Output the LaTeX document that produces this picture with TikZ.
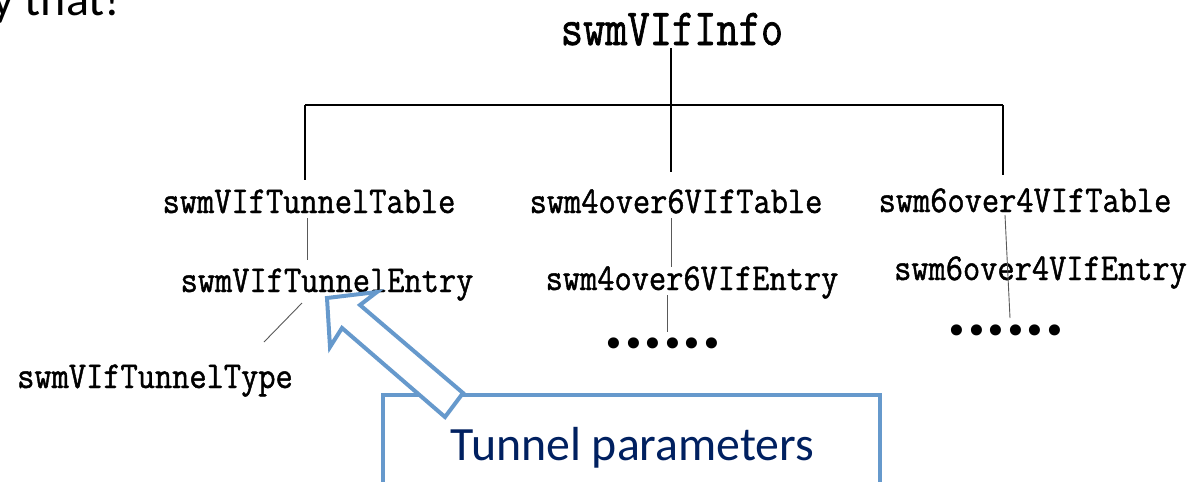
\documentclass[tikz,border=0pt]{standalone}
\usepackage{fontspec}
\setmainfont{Liberation Serif}
\newfontfamily\treefam[FakeStretch=0.88,FakeBold=1.2]{Latin Modern Mono}
\newfontfamily\topfam[FakeStretch=0.83,FakeBold=1.2]{Latin Modern Mono}
\newfontfamily\dotfam[LetterSpace=-8.7]{DejaVu Sans Mono}
\newfontfamily\calfam{Carlito}
\definecolor{boxblue}{RGB}{102,153,204}
\definecolor{navyblue}{RGB}{0,32,96}
\begin{document}
\begin{tikzpicture}[x=1pt,y=-1pt,
  lbl/.style={inner sep=0pt, anchor=base, font={\treefam\fontsize{38}{44}\selectfont}},
  toplbl/.style={inner sep=0pt, anchor=base, font={\topfam\fontsize{52}{60}\selectfont}},
  dotlbl/.style={inner sep=0pt, anchor=center, font={\dotfam\fontsize{38}{44}\selectfont}},
  treeline/.style={line width=1.1pt, black},
  subline/.style={line width=0.9pt, black!65},
  bluebox/.style={draw=boxblue, line width=4pt, fill=white, line join=miter},
  bluearrow/.style={draw=boxblue, line width=4pt, fill=white, line join=miter}
]
\useasboundingbox (0,0) rectangle (1200,482);
% partial text cut at top
\node[inner sep=0pt, anchor=base west, font={\calfam\fontsize{48}{56}\selectfont}] (cut) at (-8,15) {y that!};

% tree labels
\node[toplbl] (info) at (672,45) {swmVIfInfo};
\node[lbl] (ttab) at (309,213) {swmVIfTunnelTable};
\node[lbl] (t46) at (676,213) {swm4over6VIfTable};
\node[lbl] (t64) at (1025,212) {swm6over4VIfTable};
\node[lbl] (tent) at (327,292) {swmVIfTunnelEntry};
\node[lbl] (e46) at (692,290) {swm4over6VIfEntry};
\node[lbl] (e64) at (1040.5,280) {swm6over4VIfEntry};
\node[lbl] (ttype) at (155,388) {swmVIfTunnelType};
\node[dotlbl] (d46) at (663,348) {••••••};
\node[dotlbl] (d64) at (1006,335) {••••••};

% connector coordinates
\coordinate (infoB) at (671,48);
\coordinate (busM) at (671,105);
\coordinate (busL) at (305,105);
\coordinate (busR) at (1003,105);
\coordinate (midT) at (671,172);
\coordinate (leftT) at (305,180);
\coordinate (rightT) at (1003,175);
\coordinate (l1a) at (307,218);
\coordinate (l1b) at (307,260);
\coordinate (m1a) at (671,218);
\coordinate (m1b) at (671,267);
\coordinate (m2a) at (667,295);
\coordinate (m2b) at (667,332);
\coordinate (r1a) at (1005,215);
\coordinate (r1b) at (1010,318);
\coordinate (diagA) at (302,303);
\coordinate (diagB) at (264,342);

\draw[treeline] (infoB) -- (busM) -- (midT);
\draw[treeline] (busL) -- (busR);
\draw[treeline] (busL) -- (leftT);
\draw[treeline] (busR) -- (rightT);
\draw[subline] (l1a) -- (l1b);
\draw[subline] (m1a) -- (m1b);
\draw[subline] (m2a) -- (m2b);
\draw[subline] (r1a) -- (r1b);
\draw[subline] (diagA) -- (diagB);

% blue box (continues below the picture edge)
\draw[bluebox] (383,530) -- (383,395) -- (880,395) -- (880,530);
\node[inner sep=0pt, anchor=base, text=navyblue, font={\calfam\fontsize{47.8}{56}\selectfont}] (tp) at (632.5,460) {Tunnel parameters};

% block arrow
\draw[bluearrow] (463,393) -- (360,305) -- (377,292) -- (327,298) -- (330,347) -- (342,328) -- (445,417) -- cycle;
\end{tikzpicture}
\end{document}
